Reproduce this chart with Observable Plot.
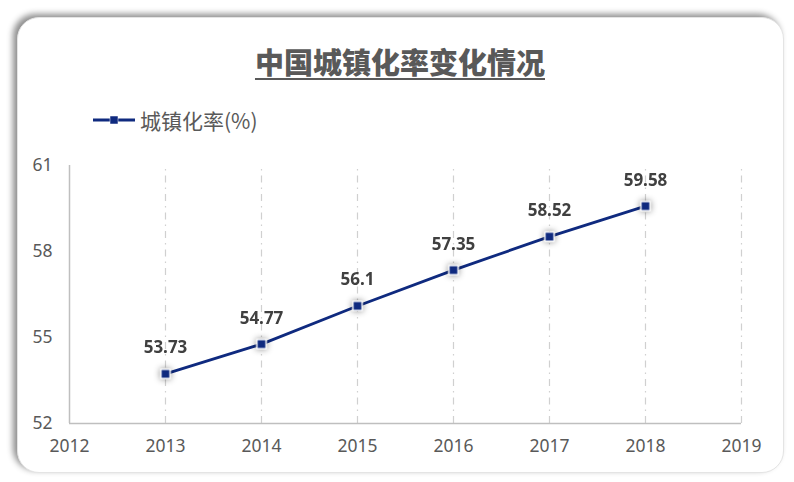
<!DOCTYPE html>
<html>
<head>
<meta charset="utf-8">
<script src="https://cdn.jsdelivr.net/npm/d3@7"></script>
<script src="https://cdn.jsdelivr.net/npm/@observablehq/plot@0.6"></script>
<style>
  html, body { margin: 0; padding: 0; background: #fff; }
  #wrap { position: relative; width: 794px; height: 482px; overflow: hidden; font-family: "Noto Sans CJK SC", "Noto Sans", sans-serif; }
  #card { position: absolute; left: 17px; top: 17px; width: 765px; height: 454px; border-radius: 22px; background: #fff;
          border: 1px solid #e4e4e4; box-shadow: -4px -3px 6px rgba(0,0,0,0.45); }
  #title { position: absolute; left: 0; width: 800px; top: 40px; text-align: center; font-size: 29px; font-weight: 900; color: #595959; }
  #title span { text-decoration: underline; text-decoration-thickness: 2px; text-underline-offset: 4px; }
  #legend { position: absolute; left: 92px; top: 105px; display: flex; align-items: center; font-size: 21px; color: #595959; }
  #legend svg { margin-right: 4px; }
  #chart { position: absolute; left: 0; top: 140px; }
</style>
</head>
<body>
<div id="wrap">
  <div id="card"></div>
  <div id="title"><span>中国城镇化率变化情况</span></div>
  <div id="legend"></div>
  <div id="chart"></div>
</div>
<script>
const years = [2013, 2014, 2015, 2016, 2017, 2018];
const rates = [53.73, 54.77, 56.1, 57.35, 58.52, 59.58];
const xTicks = [2012, 2013, 2014, 2015, 2016, 2017, 2018, 2019];
const yTicks = [52, 55, 58, 61];
const gridYears = [2013, 2014, 2015, 2016, 2017, 2018, 2019];
const seriesName = "城镇化率(%)";
const lineColor = "#0f2a7f";

const data = years.map((y, i) => ({year: y, rate: rates[i]}));

// legend
const leg = document.getElementById("legend");
leg.innerHTML = `<svg width="44" height="12"><line x1="1" y1="6" x2="43" y2="6" stroke="${lineColor}" stroke-width="3"/><rect x="18" y="2" width="8" height="8" fill="${lineColor}" stroke="#fff" stroke-width="0.5"/></svg><span>${seriesName}</span>`;

const chart = Plot.plot({
  width: 794,
  height: 330,
  marginLeft: 69,
  marginRight: 53,
  marginTop: 25,
  marginBottom: 47,
  style: {fontFamily: "'Noto Sans', 'Liberation Sans', sans-serif", background: "transparent", overflow: "visible"},
  x: {domain: [2012, 2019], label: null},
  y: {domain: [52, 61], label: null},
  marks: [
    Plot.ruleX(gridYears, {stroke: "#d0d0d0", strokeWidth: 1.2, strokeDasharray: "7,5,1.5,5", y1: 52, y2: 61}),
    Plot.ruleY([52], {stroke: "#bfbfbf", strokeWidth: 1.5}),
    Plot.ruleX([2012], {stroke: "#bfbfbf", strokeWidth: 1.5, y1: 52, y2: 61}),
    Plot.axisX({ticks: xTicks, tickFormat: d => String(d), tickSize: 0, tickPadding: 16, fontSize: 17.5, fill: "#595959", label: null}),
    Plot.axisY({ticks: yTicks, tickSize: 0, tickPadding: 17, fontSize: 17.5, fill: "#595959", label: null}),
    Plot.line(data, {x: "year", y: "rate", stroke: lineColor, strokeWidth: 2.8}),
    Plot.dot(data, {x: "year", y: "rate", symbol: "square", r: 5.2, fill: lineColor, stroke: "#fff", strokeWidth: 1.5}),
    Plot.text(data, {x: "year", y: "rate", text: d => String(d.rate), dy: -26, fontSize: 17, fontWeight: "bold", fill: "#404040"})
  ]
});
d3.select(chart).selectAll("g[aria-label=dot]").style("filter", "drop-shadow(0px 0px 3px rgba(0,0,0,0.45))");
document.getElementById("chart").appendChild(chart);
</script>
</body>
</html>
